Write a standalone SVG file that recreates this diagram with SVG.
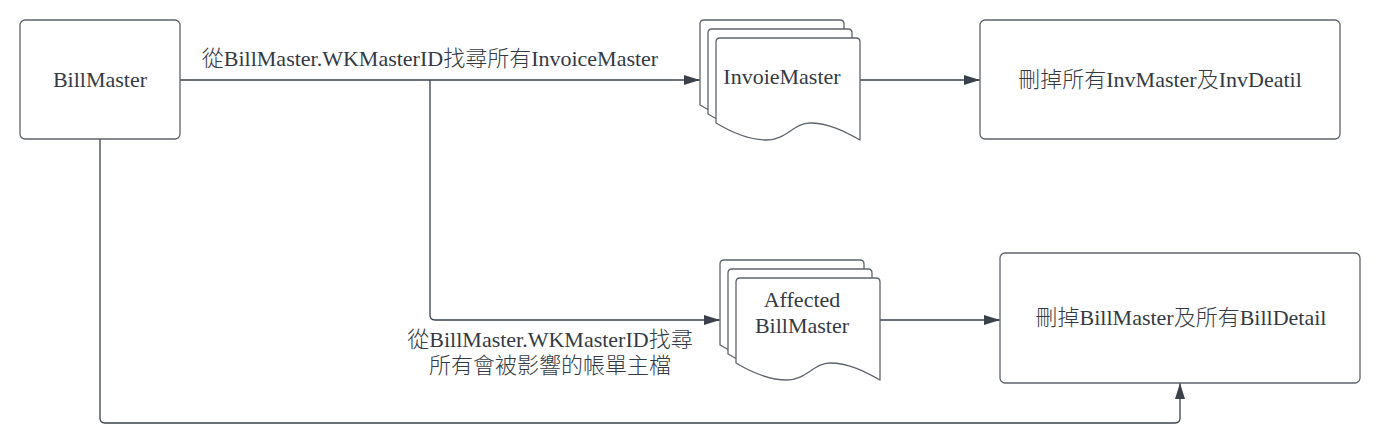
<svg xmlns="http://www.w3.org/2000/svg" width="1380" height="429" viewBox="0 0 1380 429">
<defs>
  <style>
    .box{fill:#fff;stroke:#5f646b;stroke-width:1.3}
    .doc{fill:#fff;stroke:#5f646b;stroke-width:1.3;stroke-linejoin:round}
    .ln{fill:none;stroke:#3a414a;stroke-width:1.3}
    .t{font-family:"Liberation Serif","Noto Sans CJK TC",serif;font-size:22px;font-weight:300;fill:#333a44;text-anchor:middle}
  </style>
  <marker id="arr" markerUnits="userSpaceOnUse" markerWidth="16" markerHeight="10" refX="16" refY="5" orient="auto">
    <path d="M0,0 L16,5 L0,10 Z" fill="#3a414a"/>
  </marker>
  <path id="docshape" d="M0,4 Q0,0 4,0 H140 Q144,0 144,4 V102 C128,93 112,85 94,85 C78,85 70,102 51,102 C35,102 20,97 0,85 Z"/>
</defs>
<g id="connectors">
  <path class="ln" d="M180,80 H700" marker-end="url(#arr)"/>
  <path class="ln" d="M430,80 V315 Q430,320 435,320 H720" marker-end="url(#arr)"/>
  <path class="ln" d="M860,80 H980" marker-end="url(#arr)"/>
  <path class="ln" d="M880,320 H1000" marker-end="url(#arr)"/>
  <path class="ln" d="M100,139 V418 Q100,423 105,423 H1175 Q1180,423 1180,418 V383" marker-end="url(#arr)"/>
  <text class="t" x="430" y="66">從BillMaster.WKMasterID找尋所有InvoiceMaster</text>
  <text class="t" x="550" y="347">從BillMaster.WKMasterID找尋</text>
  <text class="t" x="550" y="373">所有會被影響的帳單主檔</text>
</g>
<g id="billmaster">
  <rect class="box" x="20" y="20" width="160" height="119" rx="5"/>
  <text class="t" x="100" y="87">BillMaster</text>
</g>
<g id="invoicemaster">
  <use href="#docshape" class="doc" x="700" y="20"/>
  <use href="#docshape" class="doc" x="708" y="29"/>
  <use href="#docshape" class="doc" x="716" y="38"/>
  <text class="t" x="782" y="84">InvoieMaster</text>
</g>
<g id="affected">
  <use href="#docshape" class="doc" x="720" y="260"/>
  <use href="#docshape" class="doc" x="728" y="269"/>
  <use href="#docshape" class="doc" x="736" y="278"/>
  <text class="t" x="802" y="307">Affected</text>
  <text class="t" x="802" y="333">BillMaster</text>
</g>
<g id="delinv">
  <rect class="box" x="980" y="20" width="360" height="119" rx="5"/>
  <text class="t" x="1160" y="87">刪掉所有InvMaster及InvDeatil</text>
</g>
<g id="delbill">
  <rect class="box" x="1000" y="253" width="360" height="130" rx="5"/>
  <text class="t" x="1181" y="325">刪掉BillMaster及所有BillDetail</text>
</g>
</svg>
